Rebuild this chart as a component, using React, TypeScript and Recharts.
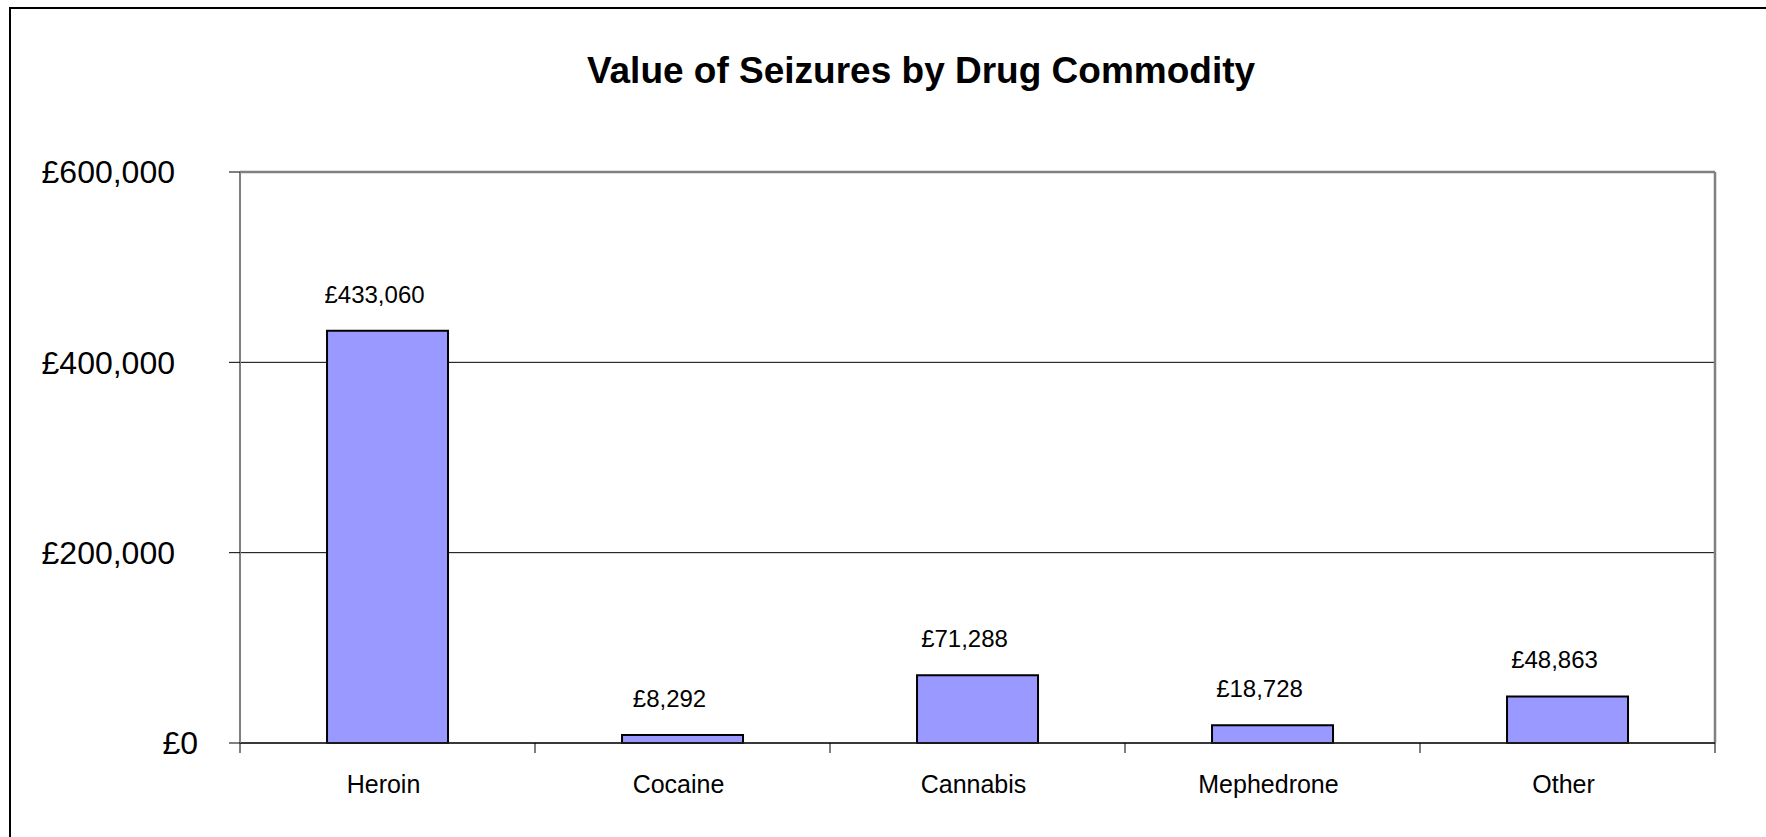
import React from "react";
import { BarChart, Bar, XAxis, YAxis, CartesianGrid, LabelList } from "recharts";

const drugs = ["Heroin", "Cocaine", "Cannabis", "Mephedrone", "Other"];
const seizureValues = [433060, 8292, 71288, 18728, 48863];
const yTicks = [0, 200000, 400000, 600000];

const data = drugs.map((name, i) => ({ name, value: seizureValues[i] }));

const FONT = '"Liberation Sans", Arial, sans-serif';
const money = (v: number) => `£${v.toLocaleString("en-GB")}`;

const YTick = (props: any) => {
    const { x, y, payload } = props;
    const shift = payload.value === 0 ? 0 : -23;
    return (
        <text x={x + shift} y={y} dy="0.355em" textAnchor="end" fontSize={32} fontFamily={FONT} fill="#000">
            {money(payload.value)}
        </text>
    );
};

const XTick = (props: any) => {
    const { x, y, payload, index, visibleTicksCount } = props;
    const half = payload.offset || 0;
    const last = index === visibleTicksCount - 1;
    return (
        <g>
            <line x1={x - half} y1={y} x2={x - half} y2={y + 10} stroke="#000" />
            {last && <line x1={x + half} y1={y} x2={x + half} y2={y + 10} stroke="#000" />}
            <text x={x - 4} y={y + 50} textAnchor="middle" fontSize={25} fontFamily={FONT} fill="#000">
                {payload.value}
            </text>
        </g>
    );
};

const ValueLabel = (props: any) => {
    const { x, y, width, value } = props;
    return (
        <text x={x + width / 2 - 13} y={y - 28} textAnchor="middle" fontSize={24} fontFamily={FONT} fill="#000">
            {money(value)}
        </text>
    );
};

export default function App() {
    return (
        <div style={{ position: "absolute", left: 0, top: 0, width: 1766, height: 837, overflow: "hidden", background: "#fff" }}>
            <div style={{ position: "absolute", left: 9, top: 7, width: 1800, height: 900, border: "2px solid #000" }} />
            <div
                style={{
                    position: "absolute",
                    left: 0,
                    top: 52,
                    width: 1842,
                    textAlign: "center",
                    fontFamily: FONT,
                    fontWeight: "bold",
                    fontSize: 37,
                    lineHeight: "37px",
                    whiteSpace: "nowrap",
                }}
            >
                Value of Seizures by Drug Commodity
            </div>
            <div style={{ position: "absolute", left: 0, top: 0 }}>
                <BarChart
                    width={1766}
                    height={837}
                    data={data}
                    margin={{ top: 172, right: 51, bottom: 0, left: 0 }}
                    barCategoryGap="29.5%"
                >
                    <CartesianGrid horizontal vertical={false} stroke="#000" strokeWidth={1} />
                    <CartesianGrid
                        horizontalCoordinatesGenerator={({ offset }: any) => [offset.top]}
                        verticalCoordinatesGenerator={({ offset }: any) => [offset.left + offset.width]}
                        stroke="#808080"
                        strokeWidth={2.5}
                    />
                    <XAxis
                        dataKey="name"
                        height={94}
                        tickLine={false}
                        tickSize={0}
                        tickMargin={0}
                        axisLine={{ stroke: "#222", strokeWidth: 1.5 }}
                        tick={<XTick />}
                        interval={0}
                    />
                    <YAxis
                        width={240}
                        domain={[0, 600000]}
                        ticks={yTicks}
                        tickSize={11}
                        tickMargin={31}
                        tickLine={{ stroke: "#000" }}
                        axisLine={{ stroke: "#808080", strokeWidth: 2 }}
                        tick={<YTick />}
                    />
                    <Bar dataKey="value" fill="#9999FF" stroke="#000" strokeWidth={2} isAnimationActive={false}>
                        <LabelList dataKey="value" content={<ValueLabel />} />
                    </Bar>
                </BarChart>
            </div>
        </div>
    );
}
